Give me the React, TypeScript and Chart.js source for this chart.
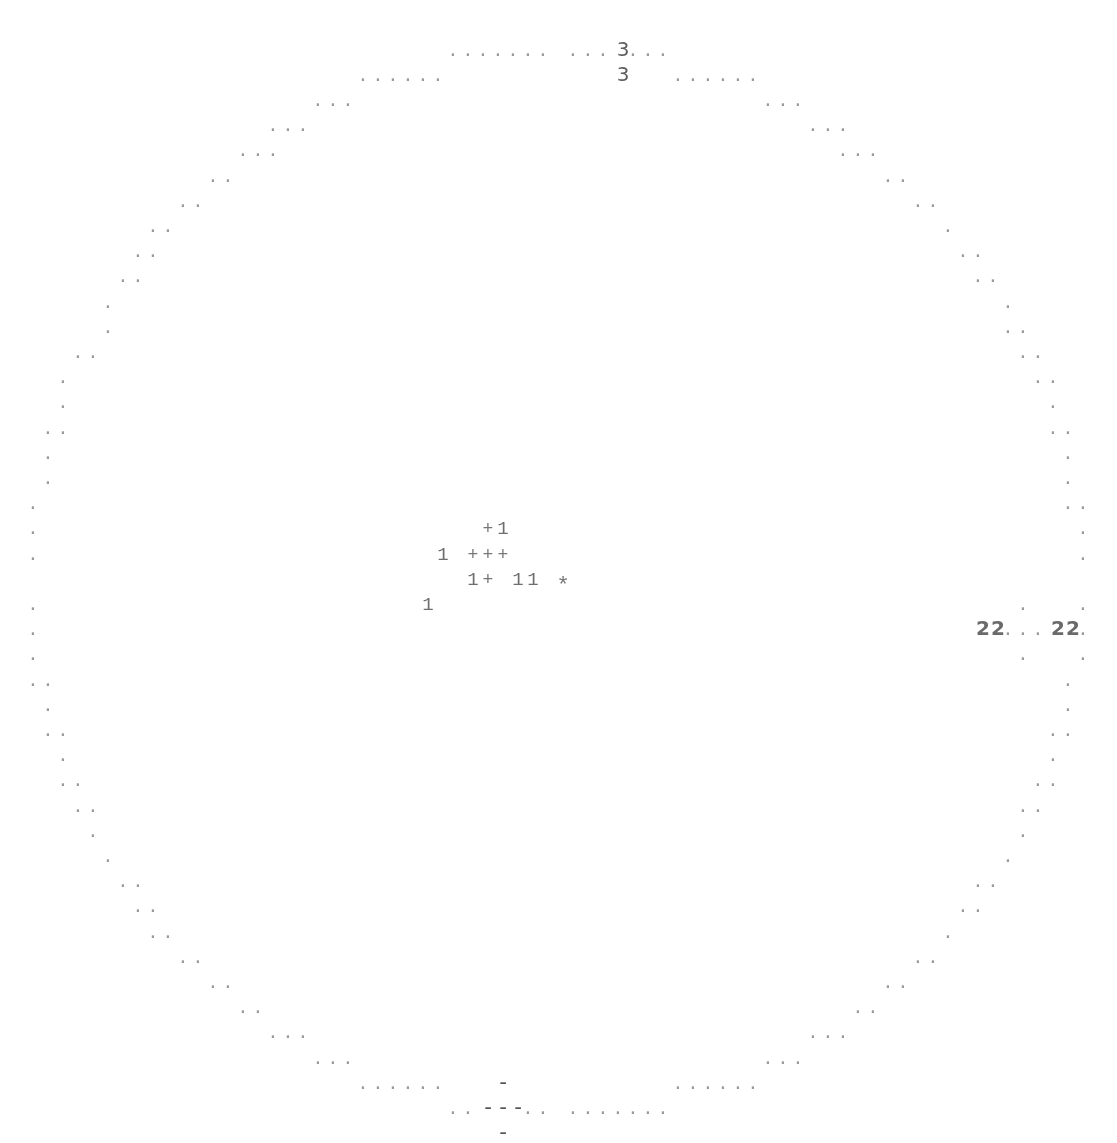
import React, { useEffect, useRef } from "react";
import { Chart, registerables } from "chart.js";

Chart.register(...registerables);

// Ring of dots: for each print row (0 = top), the print columns that carry a "."
const ringRows: number[][] = [
  [28, 29, 30, 31, 32, 33, 34, 36, 37, 38, 40, 41, 42],
  [22, 23, 24, 25, 26, 27, 43, 44, 45, 46, 47, 48],
  [19, 20, 21, 49, 50, 51],
  [16, 17, 18, 52, 53, 54],
  [14, 15, 16, 54, 55, 56],
  [12, 13, 57, 58],
  [10, 11, 59, 60],
  [8, 9, 61],
  [7, 8, 62, 63],
  [6, 7, 63, 64],
  [5, 65],
  [5, 65, 66],
  [3, 4, 66, 67],
  [2, 67, 68],
  [2, 68],
  [1, 2, 68, 69],
  [1, 69],
  [1, 69],
  [0, 69, 70],
  [0, 70],
  [0, 70],
  [],
  [0, 66, 70],
  [0, 65, 66, 67, 70],
  [0, 66, 70],
  [0, 1, 69],
  [1, 69],
  [1, 2, 68, 69],
  [2, 68],
  [2, 3, 67, 68],
  [3, 4, 66, 67],
  [4, 66],
  [5, 65],
  [6, 7, 63, 64],
  [7, 8, 62, 63],
  [8, 9, 61],
  [10, 11, 59, 60],
  [12, 13, 57, 58],
  [14, 15, 55, 56],
  [16, 17, 18, 52, 53, 54],
  [19, 20, 21, 49, 50, 51],
  [22, 23, 24, 25, 26, 27, 43, 44, 45, 46, 47, 48],
  [28, 29, 33, 34, 36, 37, 38, 39, 40, 41, 42],
];

// Plotted symbols: [column, row]
const ones: [number, number][] = [[31, 19], [27, 20], [29, 21], [32, 21], [33, 21], [26, 22]];
const pluses: [number, number][] = [[30, 19], [29, 20], [30, 20], [31, 20], [30, 21]];
const hashes: [number, number][] = [[35, 21]];
const twos: [number, number][] = [[63, 23], [64, 23], [68, 23], [69, 23]];
const threes: [number, number][] = [[39, 0], [39, 1]];
const dashes: [number, number][] = [[31, 41], [30, 42], [31, 42], [32, 42], [31, 43]];

const W = 1117;
const H = 1143;
const COL_W = 15;
const COL0 = 38;
const ROW_H = 25.2;
const ROW0 = 55.5;

export default function App() {
  const ref = useRef<HTMLCanvasElement>(null);

  useEffect(() => {
    document.body.style.margin = "0";
    const toPts = (a: [number, number][]) => a.map(([c, r]) => ({ x: c, y: r }));
    const ringPts = ringRows.flatMap((cols, r) => cols.map((c) => ({ x: c, y: r })));

    const mk = (label: string, data: any[], glyph: string, font: string, color: string, dx: number, dy: number) => ({
      label,
      data,
      pointRadius: 0,
      pointHoverRadius: 0,
      showLine: false,
      glyph,
      glyphFont: font,
      glyphColor: color,
      glyphDx: dx,
      glyphDy: dy,
    });

    const glyphPlugin = {
      id: "glyphs",
      afterDatasetsDraw(chart: any) {
        const ctx = chart.ctx as CanvasRenderingContext2D;
        chart.data.datasets.forEach((ds: any, i: number) => {
          const meta = chart.getDatasetMeta(i);
          ctx.save();
          ctx.font = ds.glyphFont;
          ctx.fillStyle = ds.glyphColor;
          ctx.textAlign = "center";
          ctx.textBaseline = "alphabetic";
          meta.data.forEach((el: any) => ctx.fillText(ds.glyph, el.x + ds.glyphDx, el.y + ds.glyphDy));
          ctx.restore();
        });
      },
    };

    const chart = new Chart(ref.current as HTMLCanvasElement, {
      type: "scatter",
      data: {
        datasets: [
          mk("ring", ringPts, ".", "18px 'DejaVu Sans Mono'", "#9a9a9a", -5, 0),
          mk("1", toPts(ones), "1", "19px 'Liberation Mono'", "#6e6e6e", 0, 0),
          mk("+", toPts(pluses), "+", "18px 'Liberation Mono'", "#777777", 0, 0),
          mk("#", toPts(hashes), "*", "22px 'Liberation Mono'", "#777777", 0, 7),
          mk("2", toPts(twos), "2", "bold 20px 'DejaVu Sans'", "#6a6a6a", 0, 0),
          mk("3", toPts(threes), "3", "20px 'DejaVu Sans'", "#5e5e5e", 0, 0),
          mk("-", toPts(dashes), "-", "22px 'DejaVu Sans Mono'", "#555555", 0, 0),
        ] as any,
      },
      options: {
        animation: false,
        responsive: false,
        events: [],
        layout: { padding: 0 },
        plugins: { legend: { display: false }, tooltip: { enabled: false } },
        scales: {
          x: { type: "linear", display: false, min: -COL0 / COL_W, max: (W - COL0) / COL_W },
          y: { type: "linear", display: false, reverse: true, min: -ROW0 / ROW_H, max: (H - ROW0) / ROW_H },
        },
      },
      plugins: [glyphPlugin],
    });
    return () => chart.destroy();
  }, []);

  return (
    <div style={{ width: W, height: H, background: "#ffffff" }}>
      <canvas ref={ref} width={W} height={H} style={{ display: "block" }} />
    </div>
  );
}
